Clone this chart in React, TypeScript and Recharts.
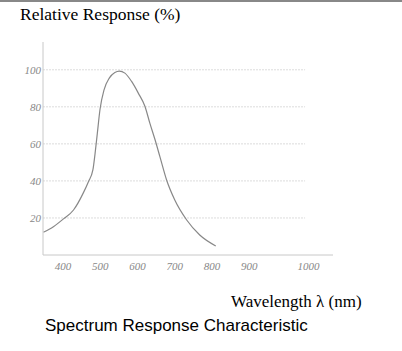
import { LineChart, Line, XAxis, YAxis, ReferenceLine } from "recharts";

// Relative spectral response
const wavelengths = [347, 374, 401, 428, 454, 468, 480, 486, 492, 499, 510, 524, 539, 551, 566, 584, 602, 620, 633, 647, 660, 678, 700, 732, 767, 810];
const response = [12.3, 15.3, 19.5, 24.3, 33.4, 39.6, 45.9, 55, 65.8, 78.4, 89.2, 95.5, 98.5, 99.3, 98.2, 93.7, 87.4, 80.2, 71.2, 62.2, 53.1, 40.5, 29.7, 18.9, 10.8, 4.9];
const xTicks = [400, 500, 600, 700, 800, 900, 1000];
const yTicks = [20, 40, 60, 80, 100];

const data = wavelengths.map((w, i) => ({ w, r: response[i] }));

const tickStyle = { fontSize: 11, fontStyle: "italic", fontFamily: "'Liberation Serif', 'DejaVu Serif', serif" };

function XTick(props: any) {
  const { x, y, payload } = props;
  // the 1000 label sits further right than the scale would put it
  const dx = payload.value === 1000 ? 22 : 0;
  return (
    <text x={x + dx} y={y} dy="0.71em" textAnchor="middle" fill="#888" style={tickStyle}>
      {payload.value}
    </text>
  );
}

function YTick(props: any) {
  const { x, y, payload } = props;
  return (
    <text x={x} y={y} dy="0.355em" textAnchor="end" fill="#888" style={tickStyle}>
      {payload.value}
    </text>
  );
}

export default function App() {
  return (
    <div style={{ position: "absolute", left: 0, top: 0, width: 402, height: 351, background: "#fff", overflow: "hidden" }}>
      <div style={{ position: "absolute", left: 0, top: 0, width: 402, height: 2, background: "#888" }} />
      <div style={{ position: "absolute", left: 20, top: 4, fontFamily: "'Liberation Serif', serif", fontSize: 17.5, color: "#000", whiteSpace: "nowrap" }}>
        Relative Response (%)
      </div>
      <div style={{ position: "absolute", left: 0, top: 0 }}>
        <LineChart width={402} height={351} data={data} margin={{ top: 42, right: 69, left: 13, bottom: 66 }}>
          <XAxis
            dataKey="w"
            type="number"
            domain={[346, 1125]}
            ticks={xTicks}
            allowDataOverflow
            tick={<XTick />}
            tickLine={false}
            tickSize={0}
            tickMargin={7}
            stroke="#c8c8c8"
            height={30}
          />
          <YAxis
            type="number"
            domain={[0, 115]}
            ticks={yTicks}
            tick={<YTick />}
            tickLine={false}
            tickSize={0}
            tickMargin={2}
            stroke="#c8c8c8"
            width={30}
          />
          {yTicks.map((v) => (
            <ReferenceLine
              key={v}
              segment={[{ x: 346, y: v }, { x: 1050, y: v }]}
              stroke="#dcdcdc"
              strokeDasharray="2 1"
              ifOverflow="extendDomain"
            />
          ))}
          <Line
            type="monotone"
            dataKey="r"
            stroke="#888"
            strokeWidth={1.2}
            dot={false}
            isAnimationActive={false}
          />
        </LineChart>
      </div>
      <div style={{ position: "absolute", left: 231, top: 292, fontFamily: "'Liberation Serif', serif", fontSize: 17, color: "#000", whiteSpace: "nowrap" }}>
        Wavelength λ (nm)
      </div>
      <div style={{ position: "absolute", left: 45, top: 316, fontFamily: "'Liberation Sans', Arial, sans-serif", fontSize: 17, color: "#000", whiteSpace: "nowrap" }}>
        Spectrum Response Characteristic
      </div>
    </div>
  );
}
